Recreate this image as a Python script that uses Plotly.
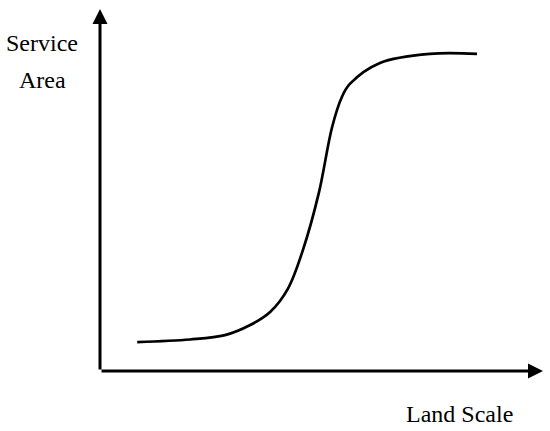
import plotly.graph_objects as go

# S-curve (land scale 0-100 on x, service area 0-100 on y)
land_scale = [8.4, 20.3, 28.2, 33.9, 38.4, 42.4, 45.8, 49.4, 52.4, 54.6, 56.4, 63.2, 74.5, 85.1]
service_area = [8.0, 8.7, 9.9, 12.7, 16.3, 22.7, 33.4, 49.2, 67.4, 75.7, 79.3, 85.1, 87.6, 87.6]

x_title = "Land Scale"
y_title = ["Service", "Area"]

W, H = 550, 431
font = dict(family="Liberation Serif, Times New Roman, serif", size=24, color="black")

fig = go.Figure()
fig.add_trace(go.Scatter(
    x=land_scale, y=service_area, mode="lines",
    line=dict(color="black", width=2.7, shape="spline", smoothing=1.0),
    hoverinfo="skip", showlegend=False,
))

# axes drawn as arrows from the origin
arrow = dict(showarrow=True, arrowhead=2, arrowsize=1, arrowwidth=3,
             arrowcolor="black", axref="x", ayref="y", ax=0, ay=0, text="")
fig.add_annotation(x=100, y=0, **arrow)
fig.add_annotation(x=0, y=100, **arrow)

fig.add_annotation(text=y_title[0], xref="paper", yref="paper", x=42 / W, y=1 - 43 / H,
                   showarrow=False, font=font, xanchor="center", yanchor="middle")
fig.add_annotation(text=y_title[1], xref="paper", yref="paper", x=42 / W, y=1 - 80 / H,
                   showarrow=False, font=font, xanchor="center", yanchor="middle")
fig.add_annotation(text=x_title, xref="paper", yref="paper", x=460 / W, y=1 - 414 / H,
                   showarrow=False, font=font, xanchor="center", yanchor="middle")

fig.update_layout(
    width=W, height=H,
    margin=dict(l=0, r=0, t=0, b=0),
    paper_bgcolor="white", plot_bgcolor="white",
    xaxis=dict(domain=[100 / W, 543 / W], range=[0, 100], visible=False, fixedrange=True),
    yaxis=dict(domain=[(H - 371) / H, (H - 9) / H], range=[0, 100], visible=False, fixedrange=True),
)

fig.write_html("out.html", config={"displayModeBar": False},
               post_script="document.body.style.margin='0';document.body.style.overflow='hidden';")
